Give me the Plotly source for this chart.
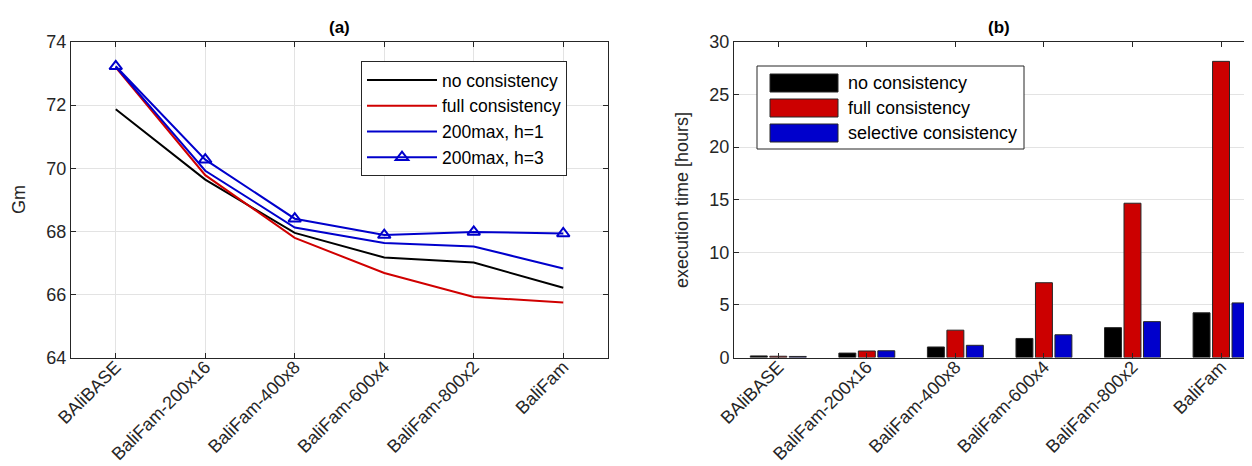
import plotly.graph_objects as go

# ---------------- data ----------------
categories = ["BAliBASE", "BaliFam-200x16", "BaliFam-400x8",
              "BaliFam-600x4", "BaliFam-800x2", "BaliFam"]

gm_no_consistency = [71.87, 69.64, 67.95, 67.17, 67.01, 66.21]
gm_full_consistency = [73.20, 69.78, 67.79, 66.68, 65.92, 65.74]
gm_200max_h1 = [73.22, 69.92, 68.12, 67.63, 67.52, 66.82]
gm_200max_h3 = [73.23, 70.27, 68.40, 67.88, 67.98, 67.93]

time_no_consistency = [0.15, 0.42, 1.00, 1.81, 2.84, 4.25]
time_full_consistency = [0.12, 0.62, 2.60, 7.11, 14.67, 28.16]
time_selective = [0.10, 0.64, 1.16, 2.16, 3.41, 5.19]

gm_ticks = [64, 66, 68, 70, 72, 74]
time_ticks = [0, 5, 10, 15, 20, 25, 30]

# ---------------- styling ----------------
W, H = 1252, 466
FONT = "Liberation Sans, Arial, Helvetica, sans-serif"
AX = "#262626"
GRID = "#e3e3e3"
BLACK = "#000000"
RED_L = "#d00000"
BLUE_L = "#0000cc"
RED_B = "#cc0000"
BLUE_B = "#0000cc"
FS = 18


def px_x(p):
    return p / W


def px_y(p):
    return 1 - p / H


xs = list(range(len(categories)))

fig = go.Figure()

# ---- panel (a) ----
fig.add_trace(go.Scatter(x=xs, y=gm_no_consistency, mode="lines", name="no consistency",
                         line=dict(color=BLACK, width=2), xaxis="x", yaxis="y", legend="legend"))
fig.add_trace(go.Scatter(x=xs, y=gm_full_consistency, mode="lines", name="full consistency",
                         line=dict(color=RED_L, width=2), xaxis="x", yaxis="y", legend="legend"))
fig.add_trace(go.Scatter(x=xs, y=gm_200max_h1, mode="lines", name="200max, h=1",
                         line=dict(color=BLUE_L, width=2), xaxis="x", yaxis="y", legend="legend"))
fig.add_trace(go.Scatter(x=xs, y=gm_200max_h3, mode="lines+markers", name="200max, h=3",
                         line=dict(color=BLUE_L, width=2),
                         marker=dict(symbol="triangle-up-open", size=11, color=BLUE_L,
                                     line=dict(width=2, color=BLUE_L)),
                         xaxis="x", yaxis="y", legend="legend"))

# ---- panel (b) ----
bar_series = [("no consistency", time_no_consistency, BLACK),
              ("full consistency", time_full_consistency, RED_B),
              ("selective consistency", time_selective, BLUE_B)]
for name, vals, col in bar_series:
    fig.add_trace(go.Bar(x=xs, y=vals, name=name, marker=dict(color=col, line=dict(color=AX, width=1)),
                         xaxis="x2", yaxis="y2", showlegend=False))

# domains (pixels -> paper)
xa_dom = [px_x(63), px_x(600)]
xb_dom = [px_x(726), 1.0]
y_dom = [px_y(349.5), px_y(34)]

axis_common = dict(showline=True, linecolor=AX, linewidth=1, mirror="ticks",
                   ticks="inside", ticklen=5, tickcolor=AX, tickwidth=1,
                   tickfont=dict(family=FONT, size=FS, color=AX), automargin=False,
                   zeroline=False)

fig.update_layout(
    width=W, height=H,
    margin=dict(l=0, r=0, t=0, b=0),
    paper_bgcolor="white", plot_bgcolor="white",
    font=dict(family=FONT, size=FS, color=AX),
    barmode="group", bargap=0.34, bargroupgap=0.13,
    xaxis=dict(domain=xa_dom, range=[-0.5, 5.5], tickvals=xs, ticktext=categories,
               tickangle=-45, ticklabelstandoff=-9, showgrid=True, gridcolor=GRID,
               gridwidth=1, anchor="y", **axis_common),
    yaxis=dict(domain=y_dom, range=[64, 74], tickvals=gm_ticks, showgrid=True,
               gridcolor=GRID, gridwidth=1, anchor="x", **axis_common),
    xaxis2=dict(domain=xb_dom, range=[-0.5, 5.44], tickvals=xs, ticktext=categories,
                tickangle=-45, ticklabelstandoff=-9, showgrid=False, anchor="y2",
                **axis_common),
    yaxis2=dict(domain=y_dom, range=[0, 30], tickvals=time_ticks, showgrid=True,
                gridcolor=GRID, gridwidth=1, anchor="x2", **axis_common),
    legend=dict(x=px_x(353), y=px_y(53), xanchor="left", yanchor="top",
                bgcolor="white", bordercolor=AX, borderwidth=1,
                font=dict(family=FONT, size=17.5, color="#000000"),
                itemwidth=70, tracegroupgap=0),
)

# axis titles and panel titles
annotations = [
    dict(text="Gm", x=px_x(11), y=px_y(192), textangle=-90, font=dict(size=FS)),
    dict(text="execution time [hours]", x=px_x(674), y=px_y(192), textangle=-90, font=dict(size=FS)),
    dict(text="<b>(a)</b>", x=px_x(331), y=px_y(20), font=dict(size=17, color="#000000")),
    dict(text="<b>(b)</b>", x=px_x(991), y=px_y(20), font=dict(size=17, color="#000000")),
]

# manual legend for panel (b) with wide colour keys
shapes = [dict(type="rect", xref="paper", yref="paper",
               x0=px_x(749), x1=px_x(1016), y0=px_y(141), y1=px_y(58),
               line=dict(color=AX, width=1), fillcolor="white", layer="above")]
for i, (name, vals, col) in enumerate(bar_series):
    cy = 75 + 25 * i
    shapes.append(dict(type="rect", xref="paper", yref="paper",
                       x0=px_x(762), x1=px_x(830), y0=px_y(cy + 9), y1=px_y(cy - 9),
                       line=dict(color=AX, width=1), fillcolor=col, layer="above"))
    annotations.append(dict(text=name, x=px_x(838), y=px_y(cy), xanchor="left",
                            font=dict(size=FS, color="#000000")))

for a in annotations:
    a.setdefault("xref", "paper")
    a.setdefault("yref", "paper")
    a.setdefault("showarrow", False)
    a.setdefault("xanchor", "center")
    a.setdefault("yanchor", "middle")

fig.update_layout(annotations=annotations, shapes=shapes)

fig.write_html("out.html")
